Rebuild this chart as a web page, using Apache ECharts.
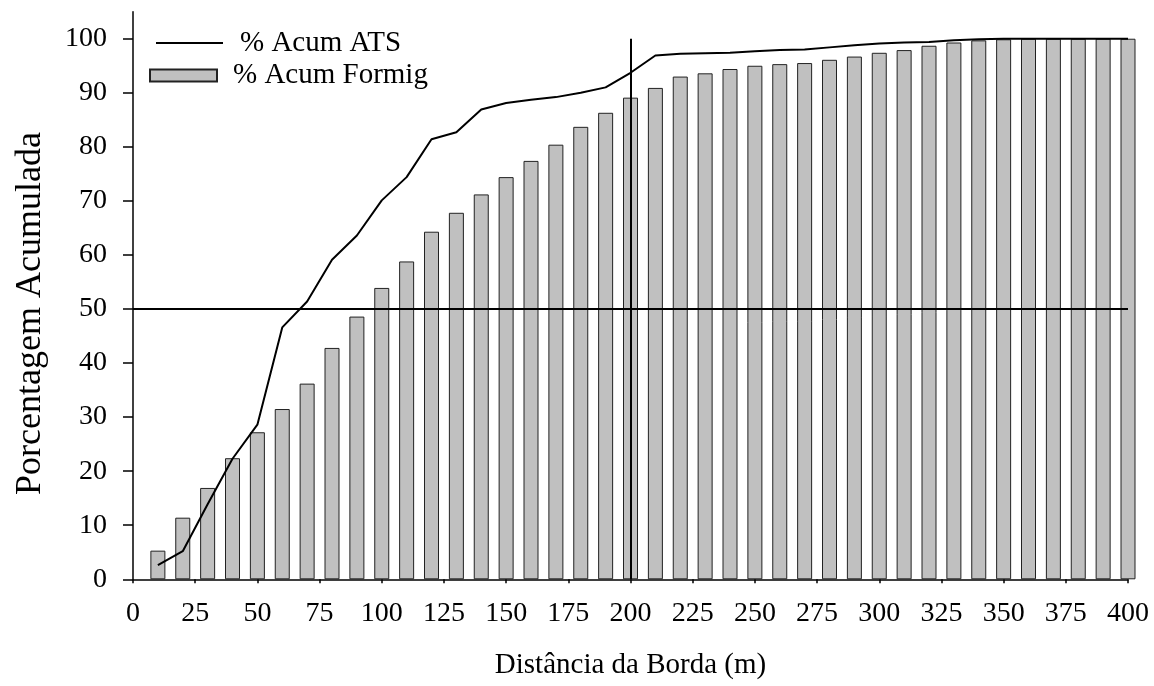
<!DOCTYPE html>
<html>
<head>
<meta charset="utf-8">
<script src="https://cdn.jsdelivr.net/npm/echarts@6/dist/echarts.min.js"></script>
<style>
  html, body { margin: 0; padding: 0; background: #fff; }
  #chart { width: 1154px; height: 686px; }
</style>
</head>
<body>
<div id="chart"></div>
<script>
// Distance from the edge (m) for each class
const distances = [10, 20, 30, 40, 50, 60, 70, 80, 90, 100,
  110, 120, 130, 140, 150, 160, 170, 180, 190, 200,
  210, 220, 230, 240, 250, 260, 270, 280, 290, 300,
  310, 320, 330, 340, 350, 360, 370, 380, 390, 400];

// Cumulative percentage, ant nests (bars)
const formigPct = [5.3, 11.4, 16.9, 22.4, 27.2, 31.5, 36.2, 42.8, 48.6, 53.9,
  58.8, 64.3, 67.8, 71.2, 74.4, 77.4, 80.4, 83.7, 86.3, 89.1,
  90.9, 93.0, 93.6, 94.4, 95.0, 95.3, 95.5, 96.1, 96.7, 97.4,
  97.9, 98.7, 99.3, 99.7, 99.9, 100, 100, 100, 100, 100];

// Cumulative percentage, ATS (line)
const atsPct = [2.6, 5.2, 13.9, 22.3, 28.6, 46.6, 51.4, 59.1, 63.6, 70.1,
  74.4, 81.4, 82.7, 86.9, 88.1, 88.7, 89.2, 90.0, 91.0, 93.7,
  96.9, 97.2, 97.3, 97.4, 97.7, 97.9, 98.0, 98.4, 98.8, 99.1,
  99.3, 99.4, 99.7, 99.9, 100, 100, 100, 100, 100, 100];

// Axis ticks
const xTicks = [0, 25, 50, 75, 100, 125, 150, 175, 200, 225, 250, 275, 300, 325, 350, 375, 400];
const yTicks = [0, 10, 20, 30, 40, 50, 60, 70, 80, 90, 100];

// Reference lines
const halfLevel = 50;
const cutDistance = 200;

const seriesNames = ['% Acum ATS', '% Acum Formig'];

const FONT = '"Liberation Serif", "Times New Roman", serif';

const chart = echarts.init(document.getElementById('chart'), null, { renderer: 'canvas' });

chart.setOption({
  animation: false,
  backgroundColor: '#ffffff',
  textStyle: { fontFamily: FONT, color: '#000' },
  grid: {
    left: 133, right: 26, top: 11.7, bottom: 106.7,
    containLabel: false,
    outerBoundsMode: 'none'
  },
  legend: [
    {
      data: [{ name: seriesNames[0], icon: 'rect' }],
      left: 156, top: 27, padding: 0,
      itemWidth: 67, itemHeight: 2, itemGap: 0,
      textStyle: { fontFamily: FONT, fontSize: 29, lineHeight: 32, color: '#000', padding: [0, 0, 0, 12] }
    },
    {
      data: [{ name: seriesNames[1], icon: 'rect' }],
      left: 149, top: 59.5, padding: 0,
      itemWidth: 67, itemHeight: 12, itemGap: 0,
      textStyle: { fontFamily: FONT, fontSize: 29, lineHeight: 32, color: '#000', padding: [0, 0, 0, 11] }
    }
  ],
  xAxis: {
    type: 'value',
    min: 0, max: 400, interval: 25,
    name: 'Distância da Borda (m)',
    nameLocation: 'middle',
    nameGap: 72,
    nameTextStyle: { fontFamily: FONT, fontSize: 29, color: '#000' },
    splitLine: { show: false },
    axisLine: { show: true, lineStyle: { color: '#000', width: 1.5 } },
    axisTick: { show: true, inside: false, length: 4, lineStyle: { color: '#000', width: 1.5 }, customValues: xTicks },
    axisLabel: { fontFamily: FONT, fontSize: 28, color: '#000', margin: 20, customValues: xTicks }
  },
  yAxis: {
    type: 'value',
    min: 0, max: 105, interval: 10,
    name: 'Porcentagem Acumulada',
    nameLocation: 'middle',
    nameGap: 84,
    nameTextStyle: { fontFamily: FONT, fontSize: 36, color: '#000', padding: [0, 36, 0, 0] },
    splitLine: { show: false },
    axisLine: { show: true, lineStyle: { color: '#000', width: 1.5 } },
    axisTick: { show: true, inside: false, length: 10, lineStyle: { color: '#000', width: 1.5 }, customValues: yTicks },
    axisLabel: { fontFamily: FONT, fontSize: 28, color: '#000', margin: 26, customValues: yTicks }
  },
  series: [
    {
      name: seriesNames[1],
      type: 'bar',
      barWidth: 15,
      data: distances.map((d, i) => [d, formigPct[i]]),
      itemStyle: { color: '#c0c0c0', borderColor: '#222', borderWidth: 1 },
      z: 2
    },
    {
      name: seriesNames[0],
      type: 'line',
      data: distances.map((d, i) => [d, atsPct[i]]),
      symbol: 'none',
      showSymbol: false,
      lineStyle: { color: '#000', width: 2 },
      itemStyle: { color: '#000' },
      z: 3,
      markLine: {
        silent: true,
        symbol: 'none',
        label: { show: false },
        lineStyle: { color: '#000', width: 2, type: 'solid' },
        data: [
          { yAxis: halfLevel },
          [{ coord: [cutDistance, 0] }, { coord: [cutDistance, 100] }]
        ]
      }
    }
  ]
});
</script>
</body>
</html>
